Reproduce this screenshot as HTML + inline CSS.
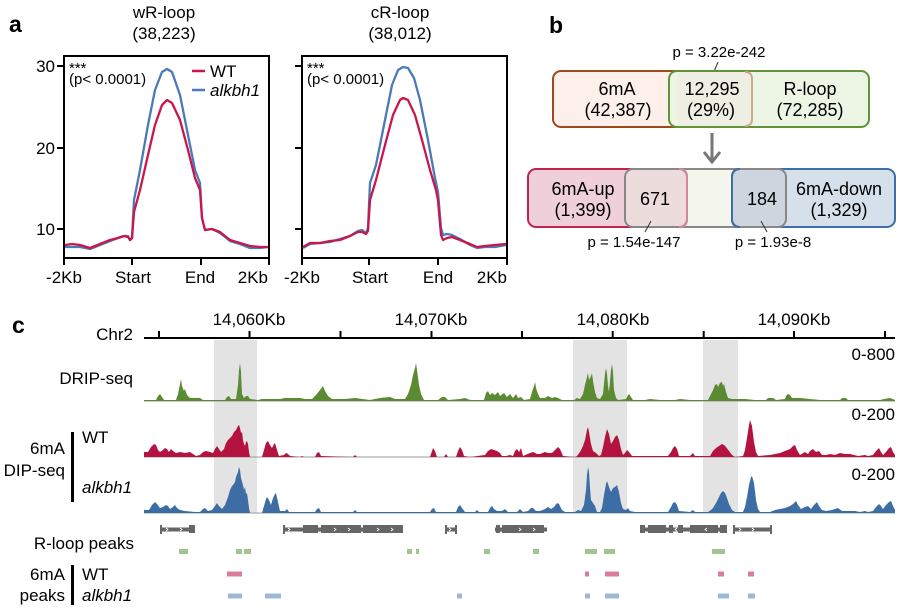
<!DOCTYPE html>
<html><head><meta charset="utf-8"><style>
html,body{margin:0;padding:0;background:#fff;}
svg{display:block;font-family:"Liberation Sans",sans-serif;}
</style></head><body>
<svg width="901" height="615" viewBox="0 0 901 615" xmlns="http://www.w3.org/2000/svg">
<rect width="901" height="615" fill="#fff"/>

<!-- ===== Panel a ===== -->
<text x="9" y="32" font-size="23" font-weight="bold">a</text>
<text x="164" y="18" font-size="17" text-anchor="middle">wR-loop</text>
<text x="164" y="39" font-size="17" text-anchor="middle">(38,223)</text>
<text x="400" y="18" font-size="17" text-anchor="middle">cR-loop</text>
<text x="400" y="39" font-size="17" text-anchor="middle">(38,012)</text>

<!-- left plot -->
<g stroke="#000" stroke-width="2" fill="none">
<rect x="64" y="56" width="205" height="202"/>
<line x1="57" y1="66" x2="64" y2="66"/><line x1="57" y1="148" x2="64" y2="148"/><line x1="57" y1="229" x2="64" y2="229"/>
<line x1="64" y1="258" x2="64" y2="265"/><line x1="132" y1="258" x2="132" y2="265"/><line x1="201" y1="258" x2="201" y2="265"/><line x1="269" y1="258" x2="269" y2="265"/>
<rect x="302" y="56" width="205" height="202"/>
<line x1="295" y1="66" x2="302" y2="66"/><line x1="295" y1="148" x2="302" y2="148"/><line x1="295" y1="229" x2="302" y2="229"/>
<line x1="302" y1="258" x2="302" y2="265"/><line x1="369" y1="258" x2="369" y2="265"/><line x1="438" y1="258" x2="438" y2="265"/><line x1="507" y1="258" x2="507" y2="265"/>
</g>
<g font-size="17">
<text x="55" y="72" text-anchor="end">30</text>
<text x="55" y="154" text-anchor="end">20</text>
<text x="55" y="235" text-anchor="end">10</text>
<text x="64" y="283" text-anchor="middle">-2Kb</text>
<text x="133" y="283" text-anchor="middle">Start</text>
<text x="200" y="283" text-anchor="middle">End</text>
<text x="268" y="283" text-anchor="end">2Kb</text>
<text x="302" y="283" text-anchor="middle">-2Kb</text>
<text x="370" y="283" text-anchor="middle">Start</text>
<text x="438" y="283" text-anchor="middle">End</text>
<text x="507" y="283" text-anchor="end">2Kb</text>
</g>
<g font-size="15">
<text x="69" y="73">***</text>
<text x="69" y="84">(p&lt; 0.0001)</text>
<text x="307" y="73">***</text>
<text x="307" y="84">(p&lt; 0.0001)</text>
</g>
<!-- legend -->
<line x1="192" y1="71" x2="205" y2="71" stroke="#c8174b" stroke-width="2.5"/>
<text x="210" y="77" font-size="17">WT</text>
<line x1="192" y1="90" x2="205" y2="90" stroke="#4a7ab8" stroke-width="2.5"/>
<text x="210" y="96" font-size="17" font-style="italic">alkbh1</text>

<!-- curves left -->
<g fill="none" stroke-width="2.3" stroke-linejoin="round">
<polyline stroke="#4a7ab8" points="65,247 80,247 90,249 100,245 110,241 118,238 124,236 128,236 130,240 132,238 134,200 140,170 148,125 155,90 162,72 167,69 172,72 180,95 188,135 195,170 200,183 202,218 205,230 212,229 220,233 230,241 240,244 250,248 260,248 268,247"/>
<polyline stroke="#c8174b" points="65,245 72,244 80,245 90,248 100,244 110,240 118,238 124,236 128,237 130,240 132,238 134,212 140,190 148,155 155,125 162,105 167,100 172,103 180,120 188,150 195,178 200,190 202,218 205,230 212,229 220,232 230,240 240,243 250,246 260,247 268,247"/>
<polyline stroke="#4a7ab8" points="303,248 310,244 330,242 350,236 358,231 362,230 366,233 368,228 370,183 376,165 385,120 392,85 398,70 403,67 408,68 414,78 420,100 428,140 435,178 438,192 441,228 443,235 447,234 452,235 460,239 470,245 477,248 485,247 495,247 506,245"/>
<polyline stroke="#c8174b" points="303,247 310,243 320,243 330,241 340,240 350,236 358,232 362,232 366,234 368,231 370,200 376,180 385,145 393,115 400,100 403,98 408,100 415,115 422,140 430,170 436,190 438,200 441,235 443,240 447,238 452,237 460,240 470,244 477,247 485,246 495,245 506,244"/>
</g>

<!-- ===== Panel b ===== -->
<text x="549" y="33" font-size="23" font-weight="bold">b</text>
<text x="719" y="57" font-size="15" text-anchor="middle">p = 3.22e-242</text>
<line x1="718" y1="62" x2="713" y2="74" stroke="#333" stroke-width="1"/>
<rect x="553" y="71" width="200" height="56" rx="8" fill="#fdf0ea" stroke="#9c4a1c" stroke-width="2"/>
<rect x="669" y="71" width="200" height="56" rx="8" fill="#edf5e5" stroke="#5f9538" stroke-width="2"/>
<path d="M677,72 L745,72 Q752,72 752,79 L752,119 Q752,126 745,126 L677,126" fill="#eeeee2" stroke="none"/>
<path d="M745,72 Q752,72 752,79 L752,119 Q752,126 745,126" fill="none" stroke="#c8ad86" stroke-width="2"/>
<g font-size="18" text-anchor="middle">
<text x="617" y="95">6mA</text>
<text x="618" y="116">(42,387)</text>
<text x="712" y="95">12,295</text>
<text x="711" y="116">(29%)</text>
<text x="810" y="95">R-loop</text>
<text x="810" y="116">(72,285)</text>
</g>
<!-- arrow -->
<g stroke="#777" stroke-width="3" fill="none">
<line x1="712" y1="133" x2="712" y2="162"/>
<polyline points="704,152 712,162 720,152"/>
</g>
<!-- bottom row -->
<rect x="625" y="169" width="161" height="58" rx="8" fill="#f4f5ec" stroke="#888" stroke-width="2"/>
<rect x="528" y="169" width="159" height="58" rx="8" fill="#efcfd9" stroke="#c0234e" stroke-width="2"/>
<rect x="732" y="169" width="163" height="58" rx="8" fill="#d6e0eb" stroke="#3d6ea8" stroke-width="2"/>
<rect x="625" y="169" width="62" height="58" rx="8" fill="#eddcdc" stroke="#888" stroke-width="2"/>
<path d="M679,169 Q687,169 687,177 L687,219 Q687,227 679,227" fill="none" stroke="#d4889a" stroke-width="2"/>
<rect x="732" y="169" width="54" height="58" rx="8" fill="#cdd6de" stroke="#888" stroke-width="2"/>
<path d="M740,169 Q732,169 732,177 L732,219 Q732,227 740,227" fill="none" stroke="#3d6ea8" stroke-width="2"/>
<g font-size="18" text-anchor="middle">
<text x="583" y="195">6mA-up</text>
<text x="583" y="216">(1,399)</text>
<text x="655" y="205">671</text>
<text x="762" y="205">184</text>
<text x="839" y="195">6mA-down</text>
<text x="839" y="216">(1,329)</text>
</g>
<line x1="651" y1="221" x2="645" y2="232" stroke="#333" stroke-width="1"/>
<line x1="761" y1="221" x2="767" y2="232" stroke="#333" stroke-width="1"/>
<text x="634" y="247" font-size="15" text-anchor="middle">p = 1.54e-147</text>
<text x="773" y="247" font-size="15" text-anchor="middle">p = 1.93e-8</text>

<!-- ===== Panel c ===== -->
<text x="12" y="333" font-size="23" font-weight="bold">c</text>
<text x="133" y="340" font-size="17" text-anchor="end">Chr2</text>
<g font-size="17" text-anchor="middle">
<text x="249" y="325">14,060Kb</text>
<text x="431" y="325">14,070Kb</text>
<text x="613" y="325">14,080Kb</text>
<text x="794" y="325">14,090Kb</text>
</g>
<g stroke="#000" stroke-width="2">
<line x1="144" y1="338" x2="895" y2="338"/>
<line x1="159" y1="331" x2="159" y2="338"/><line x1="249.5" y1="331" x2="249.5" y2="338"/><line x1="340.5" y1="331" x2="340.5" y2="338"/><line x1="431.5" y1="331" x2="431.5" y2="338"/><line x1="522" y1="331" x2="522" y2="338"/><line x1="612.7" y1="331" x2="612.7" y2="338"/><line x1="703.7" y1="331" x2="703.7" y2="338"/><line x1="794" y1="331" x2="794" y2="338"/><line x1="885" y1="331" x2="885" y2="338"/>
</g>
<!-- highlight regions -->
<g fill="#e3e3e3">
<rect x="214" y="340" width="43" height="173"/>
<rect x="573" y="340" width="54" height="173"/>
<rect x="703" y="340" width="35" height="173"/>
</g>
<!-- track labels -->
<g font-size="17">
<text x="133" y="384" text-anchor="end">DRIP-seq</text>
<text x="65" y="454" text-anchor="end">6mA</text>
<text x="65" y="476" text-anchor="end">DIP-seq</text>
<text x="82" y="443">WT</text>
<text x="82" y="493" font-style="italic">alkbh1</text>
<text x="895" y="360" text-anchor="end">0-800</text>
<text x="895" y="420" text-anchor="end">0-200</text>
<text x="895" y="480" text-anchor="end">0-200</text>
<text x="134" y="549" text-anchor="end">R-loop peaks</text>
<text x="65" y="580" text-anchor="end">6mA</text>
<text x="65" y="601" text-anchor="end">peaks</text>
<text x="82" y="580">WT</text>
<text x="82" y="601" font-style="italic">alkbh1</text>
</g>
<rect x="71" y="432" width="3" height="70" fill="#000"/>
<rect x="71" y="565" width="3" height="40" fill="#000"/>

<!-- baselines -->
<g stroke="#999" stroke-width="1">
<line x1="144" y1="401" x2="895" y2="401"/>
<line x1="144" y1="457" x2="895" y2="457"/>
<line x1="144" y1="513" x2="895" y2="513"/>
</g>

<!-- DRIP-seq -->
<path fill="#5a8a32" d="M144,401 L144,400 L156,400 L158,396 L160,394 L162,397 L164,400 L176,400 L178,394 L180,384 L181,379 L182,386 L184,391 L185,389 L187,395 L190,398 L200,398 L203,400 L225,400 L227,397 L229,396 L231,399 L236,399 L238,385 L239,370 L240,363 L241,372 L242,394 L244,398 L246,396 L248,396 L250,399 L258,400 L262,399 L280,399 L285,398 L300,398 L305,399 L312,399 L316,395 L320,390 L323,386 L325,391 L328,396 L332,399 L345,399 L355,398 L370,400 L380,398 L390,397 L395,399 L405,399 L408,394 L411,385 L413,375 L415,368 L416,363 L417,370 L419,385 L421,394 L424,400 L438,400 L442,397 L445,397 L448,400 L460,399 L465,398 L470,400 L484,400 L486,393 L488,391 L490,395 L492,393 L495,395 L498,392 L500,396 L504,393 L507,397 L510,394 L513,398 L516,394 L518,398 L521,397 L524,400 L530,399 L532,392 L534,386 L535,382 L536,388 L538,394 L540,398 L545,398 L548,396 L552,398 L555,397 L558,398 L562,400 L574,400 L577,398 L580,399 L583,394 L585,385 L587,377 L588,373 L589,380 L591,376 L592,373 L593,381 L595,392 L597,398 L600,399 L603,394 L605,374 L606,368 L607,374 L608,386 L609,392 L611,370 L612,364 L613,372 L614,390 L616,398 L618,400 L626,399 L628,395 L629,394 L631,397 L633,400 L645,400 L650,399 L660,400 L675,400 L680,399 L690,400 L708,400 L710,396 L713,390 L715,385 L717,384 L718,387 L720,383 L722,382 L723,386 L724,384 L726,392 L728,398 L732,399 L745,399 L755,400 L766,400 L768,398 L773,398 L776,400 L785,399 L786,396 L788,394 L790,395 L792,398 L800,398 L810,399 L820,400 L840,400 L842,398 L846,398 L848,400 L880,400 L884,399 L890,398 L895,400 L895,401 Z"/>

<!-- WT 6mA -->
<path fill="#b41340" d="M144,457 L144,452 L148,452 L151,447 L154,444 L156,445 L158,450 L160,452 L163,450 L165,448 L167,449 L169,452 L171,449 L173,451 L176,453 L180,452 L185,453 L190,452 L193,454 L196,456 L200,455 L203,452 L206,451 L210,452 L213,453 L215,449 L217,446 L219,449 L221,452 L224,449 L226,443 L228,440 L230,438 L232,436 L234,432 L236,430 L238,426 L239,425 L240,428 L241,433 L242,432 L243,440 L244,444 L245,446 L246,442 L247,441 L248,444 L249,452 L250,457 L262,457 L264,450 L266,443 L268,441 L270,445 L272,448 L274,444 L275,443 L277,450 L279,456 L284,455 L286,453 L288,454 L290,456 L300,457 L302,456 L304,457 L315,457 L317,453 L319,452 L321,456 L353,457 L355,455 L357,457 L430,457 L432,451 L433,448 L435,451 L437,457 L444,457 L446,454 L448,457 L456,457 L458,451 L460,447 L462,450 L464,456 L470,457 L485,455 L488,451 L491,449 L494,450 L497,451 L500,453 L502,456 L506,456 L510,455 L513,456 L515,451 L517,449 L519,452 L521,448 L523,456 L530,453 L533,452 L537,454 L540,454 L545,452 L548,453 L552,453 L555,450 L558,447 L560,449 L563,456 L575,457 L577,456 L580,452 L583,446 L585,440 L587,430 L588,427 L589,432 L591,444 L593,451 L596,453 L599,456 L601,455 L603,447 L605,437 L607,429 L609,434 L611,444 L613,441 L615,437 L617,435 L619,440 L621,449 L623,455 L625,453 L627,450 L629,452 L632,456 L668,456 L671,452 L673,448 L675,446 L677,449 L679,456 L690,456 L693,453 L695,456 L710,456 L713,451 L716,448 L719,446 L722,444 L724,445 L726,447 L729,451 L732,455 L735,457 L743,456 L745,450 L747,438 L749,425 L750,420 L752,426 L754,442 L756,452 L758,456 L770,455 L775,454 L780,453 L785,451 L790,449 L793,446 L795,445 L797,450 L800,455 L805,452 L808,454 L810,451 L813,449 L816,452 L819,451 L822,455 L826,455 L830,454 L835,455 L840,453 L845,454 L850,454 L858,456 L865,455 L868,456 L873,455 L876,451 L879,448 L881,452 L883,455 L886,452 L889,448 L891,447 L893,452 L895,455 L895,457 Z"/>

<!-- alkbh1 6mA -->
<path fill="#3d6da5" d="M144,513 L144,510 L149,510 L152,505 L155,502 L157,504 L160,508 L163,507 L166,505 L168,506 L170,509 L173,507 L175,505 L177,508 L180,510 L185,511 L195,512 L200,512 L203,509 L205,508 L208,511 L212,510 L215,506 L217,503 L219,506 L222,509 L225,505 L228,497 L230,490 L232,486 L233,485 L235,482 L236,477 L238,472 L239,467 L240,470 L241,478 L243,485 L244,490 L245,487 L246,494 L247,493 L248,500 L249,508 L250,513 L262,513 L264,506 L266,499 L267,497 L269,500 L271,505 L273,498 L275,494 L276,493 L278,502 L280,511 L285,511 L287,509 L289,512 L315,512 L317,509 L319,508 L321,512 L353,512 L355,510 L357,512 L430,512 L432,509 L434,508 L436,512 L456,512 L458,507 L460,505 L462,508 L465,512 L475,512 L477,510 L479,512 L488,512 L490,508 L492,506 L494,509 L497,511 L502,511 L505,509 L508,512 L517,512 L520,509 L523,512 L528,511 L531,508 L533,508 L536,511 L540,511 L545,509 L548,507 L551,509 L554,507 L557,503 L559,504 L562,510 L565,512 L575,512 L578,510 L581,511 L584,505 L586,490 L587,475 L588,467 L589,472 L590,488 L591,500 L593,503 L595,506 L597,512 L600,512 L602,508 L604,495 L606,484 L607,481 L609,487 L611,492 L613,488 L615,487 L617,485 L619,492 L621,503 L623,509 L626,510 L628,508 L630,511 L635,512 L668,512 L671,507 L673,503 L675,502 L677,505 L679,511 L690,512 L693,510 L695,512 L708,512 L711,510 L713,508 L716,503 L719,497 L721,493 L723,491 L725,493 L727,498 L729,504 L732,510 L735,512 L743,512 L745,507 L747,497 L749,485 L751,477 L752,476 L754,483 L756,500 L758,509 L760,512 L770,512 L775,510 L780,509 L785,508 L790,506 L793,504 L796,501 L798,505 L801,509 L805,507 L808,506 L811,509 L814,505 L817,502 L819,506 L822,510 L826,511 L832,510 L838,508 L842,511 L855,511 L860,512 L865,511 L868,512 L873,511 L876,507 L879,504 L881,506 L883,509 L886,505 L889,502 L891,501 L893,506 L895,510 L895,513 Z"/>

<!-- gene track -->
<g fill="#666">
<rect x="160" y="527.5" width="35" height="4"/><rect x="160" y="525" width="2" height="9"/><rect x="189" y="525" width="6" height="8"/>
<rect x="283" y="527.5" width="120" height="4"/><rect x="283" y="525" width="2" height="9"/><rect x="303" y="525" width="15" height="8"/><rect x="321" y="525" width="40" height="8"/><rect x="363" y="525" width="40" height="8"/>
<rect x="445" y="527.5" width="12" height="4"/><rect x="445" y="525" width="2" height="9"/><rect x="455" y="525" width="2" height="9"/>
<rect x="495" y="527.5" width="52" height="4"/><rect x="496" y="525" width="4" height="8"/><rect x="502" y="525" width="42" height="8"/>
<rect x="640" y="527.5" width="87" height="4"/><rect x="640" y="525" width="5" height="8"/><rect x="648" y="525" width="18" height="8"/><rect x="669" y="525" width="4" height="8"/><rect x="678" y="525" width="5" height="8"/><rect x="690" y="525" width="28" height="8"/><rect x="720" y="525" width="7" height="8"/>
<rect x="733" y="527.5" width="39" height="4"/><rect x="733" y="525" width="2" height="9"/><rect x="770" y="525" width="2" height="9"/>
</g>
<g stroke="#fff" stroke-width="0.8" fill="none">
<polyline points="166,528 168,529.5 166,531"/><polyline points="180,528 182,529.5 180,531"/>
<polyline points="288,528 290,529.5 288,531"/><polyline points="334,528 336,529.5 334,531"/><polyline points="348,528 350,529.5 348,531"/><polyline points="377,528 379,529.5 377,531"/><polyline points="391,528 393,529.5 391,531"/>
<polyline points="449,528 451,529.5 449,531"/>
<polyline points="519,528 521,529.5 519,531"/><polyline points="533,528 535,529.5 533,531"/>
<polyline points="677,528 675,529.5 677,531"/><polyline points="707,528 705,529.5 707,531"/>
<polyline points="739,528 741,529.5 739,531"/><polyline points="752,528 754,529.5 752,531"/>
</g>

<!-- peak boxes -->
<g fill="#a3c48f">
<rect x="179" y="549" width="9" height="5"/><rect x="236" y="549" width="6" height="5"/><rect x="244" y="549" width="7" height="5"/><rect x="407" y="549" width="5" height="5"/><rect x="416" y="549" width="3" height="5"/>
<rect x="484" y="549" width="6" height="5"/><rect x="533" y="549" width="6" height="5"/><rect x="585" y="549" width="12" height="5"/><rect x="604" y="549" width="11" height="5"/><rect x="712" y="549" width="13" height="5"/>
</g>
<g fill="#db7c98">
<rect x="227" y="571.5" width="15" height="5"/><rect x="585" y="571.5" width="4" height="5"/><rect x="605" y="571.5" width="14" height="5"/><rect x="718" y="571.5" width="6" height="5"/><rect x="748" y="571.5" width="6" height="5"/>
</g>
<g fill="#9fb8d8">
<rect x="228" y="593.5" width="14" height="5"/><rect x="265" y="593.5" width="16" height="5"/><rect x="457" y="593.5" width="5" height="5"/><rect x="585" y="593.5" width="5" height="5"/><rect x="605" y="593.5" width="14" height="5"/><rect x="718" y="593.5" width="11" height="5"/><rect x="748" y="593.5" width="7" height="5"/>
</g>
</svg>
</body></html>
